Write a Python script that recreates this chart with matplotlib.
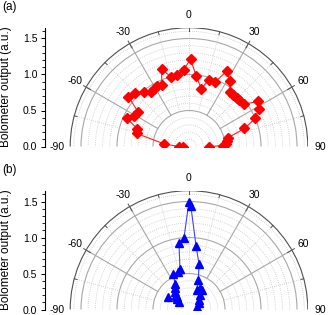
import numpy as np
import matplotlib
matplotlib.use("Agg")
import matplotlib.pyplot as plt
from matplotlib.patches import Arc

plt.rcParams['font.family'] = ['Liberation Sans', 'DejaVu Sans']

# panel (a): angle (deg) and bolometer output
theta_a = [-90, -90, -84, -76, -71, -65.5, -61, -56, -50.5, -45, -40, -34.5,
           -31.5, -28, -24, -19.5, -14.5, -9.5, -4, 1, 6, 12, 16.5, 22, 26.5,
           32, 37, 41, 44.5, 47, 52.5, 57, 61.5, 67, 72, 77.5, 81, 86, 88.5, 90]
r_a = [0.08, 0.14, 0.35, 0.75, 0.76, 0.95, 0.88, 0.85, 1.09, 1.06, 0.98, 0.92,
       0.94, 0.95, 0.93, 1.14, 1.00, 1.00, 1.07, 1.21, 0.98, 0.82, 0.97, 0.96,
       1.17, 1.08, 0.945, 0.94, 0.945, 0.95, 0.97, 1.15, 1.10, 1.00, 0.81,
       0.55, 0.53, 0.51, 0.47, 0.28]

# panel (b)
theta_b = [-60.5, -54, -48.5, -45, -41, -38.5, -32.5, -28.5, -23.5, -17, -12.5,
           -8.6, -4, 0, 1, 6.3, 12.3, 17.6, 21.6, 27.6, 33, 35.8, 45, 58, 72]
r_b = [0.34, 0.18, 0.215, 0.24, 0.275, 0.31, 0.36, 0.41, 0.545, 0.54, 0.58,
       0.93, 1.00, 1.50, 1.44, 0.89, 0.65, 0.43, 0.29, 0.33, 0.32, 0.25, 0.19,
       0.16, 0.12]

rmax = 1.65
ang_labels = [-90, -60, -30, 0, 30, 60, 90]


def polar_frame(ax):
    # dotted minor circles
    for r in np.arange(0.1, 1.61, 0.1):
        if abs(r * 2 - round(r * 2)) < 1e-6:
            continue
        ax.add_patch(Arc((0, 0), 2 * r, 2 * r, theta1=0, theta2=180,
                         color='#c8c8c8', lw=0.6, ls=(0, (1, 1.5))))
    for r in [0.5, 1.0, 1.5]:
        ax.add_patch(Arc((0, 0), 2 * r, 2 * r, theta1=0, theta2=180,
                         color='#a8a8a8', lw=0.8))
    ax.add_patch(Arc((0, 0), 2 * rmax, 2 * rmax, theta1=0, theta2=180,
                     color='#505050', lw=0.8))
    # radial lines
    for a in [-75, -45, -15, 0, 15, 45, 75]:
        t = np.radians(a)
        ax.plot([0.5 * np.sin(t), rmax * np.sin(t)], [0.5 * np.cos(t), rmax * np.cos(t)],
                color='#c8c8c8', lw=0.6, ls=(0, (1, 1.5)))
        ax.plot([1.61 * np.sin(t), rmax * np.sin(t)], [1.61 * np.cos(t), rmax * np.cos(t)],
                color='#505050', lw=0.7)
    for a in [-60, -30, 30, 60]:
        t = np.radians(a)
        ax.plot([0.5 * np.sin(t), rmax * np.sin(t)], [0.5 * np.cos(t), rmax * np.cos(t)],
                color='#a8a8a8', lw=0.8)
        ax.plot([1.58 * np.sin(t), 1.69 * np.sin(t)], [1.58 * np.cos(t), 1.69 * np.cos(t)],
                color='#505050', lw=0.7, clip_on=False)
    for a in ang_labels:
        t = np.radians(a)
        ax.text(1.83 * np.sin(t), 1.83 * np.cos(t) - (0.01 if abs(a) == 90 else 0),
                str(a), ha='center', va='center', fontsize=7.5, clip_on=False)

    ax.set_xlim(-2.0, rmax)
    ax.set_ylim(0, rmax)
    for s in ['top', 'right', 'bottom']:
        ax.spines[s].set_visible(False)
    ax.spines['left'].set_linewidth(0.8)
    ax.set_xticks([])
    ax.set_yticks([0, 0.5, 1.0, 1.5])
    ax.set_yticks(np.arange(0, 1.61, 0.1), minor=True)
    ax.yaxis.set_major_formatter(matplotlib.ticker.FormatStrFormatter('%.1f'))
    ax.tick_params(axis='y', which='major', length=3, width=0.7, pad=2.5, labelsize=7.5)
    ax.tick_params(axis='y', which='minor', length=2.5, width=0.6)
    ax.set_ylabel('Bolometer output (a.u.)', fontsize=8.5)
    ax.yaxis.set_label_coords(-0.125, 0.5)


fig = plt.figure(figsize=(3.32, 3.15), dpi=100)
W, H = 332.0, 315.0
s = 72.0
left = 45.0
wpx = (2.0 + rmax) * s
hpx = rmax * s
ax1 = fig.add_axes([left / W, (H - 146.5) / H, wpx / W, hpx / H])
ax2 = fig.add_axes([left / W, (H - 309.5) / H, wpx / W, hpx / H])

for ax in (ax1, ax2):
    polar_frame(ax)

ta = np.radians(theta_a)
ax1.plot(np.array(r_a) * np.sin(ta), np.array(r_a) * np.cos(ta), '-', color='#ff2020',
         lw=0.8, marker='D', ms=5, mfc='#ff0000', mec='#ff0000', zorder=5)
tb = np.radians(theta_b)
ax2.plot(np.array(r_b) * np.sin(tb), np.array(r_b) * np.cos(tb), '-', color='#4040ff',
         lw=0.8, marker='^', ms=5.5, mfc='#0000ff', mec='#0000ff', zorder=5)

fig.text(2 / W, 1 - 7 / H, '(a)', fontsize=8.5, va='center', ha='left')
fig.text(2 / W, 1 - 170 / H, '(b)', fontsize=8.5, va='center', ha='left')

fig.savefig('out.png', dpi=100)
